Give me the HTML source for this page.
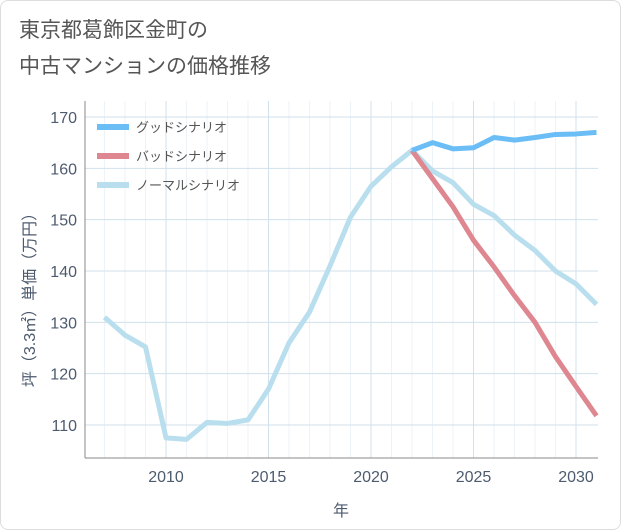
<!DOCTYPE html>
<html><head><meta charset="utf-8"><style>
body{margin:0;background:#fff;}
#wrap{position:relative;width:619px;height:528px;border:1px solid #ddd;border-radius:8px;background:#fff;overflow:hidden;font-family:"Liberation Sans","Noto Sans CJK JP",sans-serif;}
#title{position:absolute;left:18px;top:12px;font-size:21px;line-height:36px;color:#555;}
svg{position:absolute;left:0;top:0;}
text{font-family:"Liberation Sans","Noto Sans CJK JP",sans-serif;}
</style></head><body>
<div id="wrap">
<div id="title">東京都葛飾区金町の<br>中古マンションの価格推移</div>
<svg id="chart" width="621" height="530"></svg>
</div>
<script>
const years=[2007,2008,2009,2010,2011,2012,2013,2014,2015,2016,2017,2018,2019,2020,2021,2022,2023,2024,2025,2026,2027,2028,2029,2030,2031];
const normalValues=[131,127.5,125.2,107.5,107.2,110.5,110.3,111,117,126,132,141,150.5,156.5,160.3,163.5,159.5,157.2,153,150.8,147,144,140,137.5,133.5];
const futureYears=[2022,2023,2024,2025,2026,2027,2028,2029,2030,2031];
const goodValues=[163.5,165,163.8,164,166,165.5,166,166.6,166.7,167];
const badValues=[163.5,158,152.5,146,140.8,135.2,130,123.3,117.5,111.8];
const xTicks=[2010,2015,2020,2025,2030];
const yTicks=[110,120,130,140,150,160,170];
const legendLabels=["グッドシナリオ","バッドシナリオ","ノーマルシナリオ"];
const legendColors=["#6bbdf5","#de8790","#b9dfee"];

const L=84,R=597,T=100,B=457;
const x=v=>165+(v-2010)*(575-165)/20;
const y=v=>424-(v-110)*(424-116)/60;
const svg=document.getElementById('chart');
const NS='http://www.w3.org/2000/svg';
const tc='#4d5b6e';
function mk(t,a){const e=document.createElementNS(NS,t);for(const k in a)e.setAttribute(k,a[k]);svg.appendChild(e);return e;}
for(const t of xTicks){
 const l=mk('line',{x1:x(t),x2:x(t),y1:T,y2:B,stroke:'#d0e0ec','stroke-width':1});
 
 
 for(let k=1;k<5;k++){const xx=x(t)-k*(x(1)-x(0));if(xx>L){const m=mk('line',{x1:xx,x2:xx,y1:T,y2:B,stroke:'#eef3f7','stroke-width':1});}}
 const tx=mk('text',{x:x(t),y:B+24,'text-anchor':'middle','font-size':16,fill:tc});tx.textContent=t;
 
 
}
for(const t of yTicks){
 const l=mk('line',{x1:L,x2:R,y1:y(t),y2:y(t),stroke:'#d0e0ec','stroke-width':1});
 
 
 const tx=mk('text',{x:L-8,y:y(t)+6,'text-anchor':'end','font-size':16,fill:tc});tx.textContent=t;
 
 
}
const ax=mk('line',{x1:L,x2:R,y1:B,y2:B,stroke:'#888','stroke-width':1});


const ay=mk('line',{x1:L,x2:L,y1:T,y2:B,stroke:'#888','stroke-width':1});


const xt=mk('text',{x:340,y:515,'text-anchor':'middle','font-size':16,fill:tc});xt.textContent='年';


const yt=mk('text',{x:0,y:0,'text-anchor':'middle','font-size':16,fill:tc,transform:'translate(34,295) rotate(-90)'});yt.textContent='坪（3.3㎡）単価（万円）';


function line(xs,vs,c,name){const p=mk('polyline',{points:xs.map((v,i)=>x(v)+','+y(vs[i])).join(' '),fill:'none',stroke:c,'stroke-width':5,'stroke-linejoin':'round'});}
line(years,normalValues,legendColors[2],'normal-scenario-line');
line(futureYears,badValues,legendColors[1],'bad-scenario-line');
line(futureYears,goodValues,legendColors[0],'good-scenario-line');
legendLabels.forEach((lb,i)=>{
 const yy=126+i*29;
 const s=mk('line',{x1:96,x2:128,y1:yy,y2:yy,stroke:legendColors[i],'stroke-width':6});
 
 
 const t=mk('text',{x:135,y:yy+5,'font-size':13,fill:'#555'});t.textContent=lb;
 
 
});
</script>
</body></html>
